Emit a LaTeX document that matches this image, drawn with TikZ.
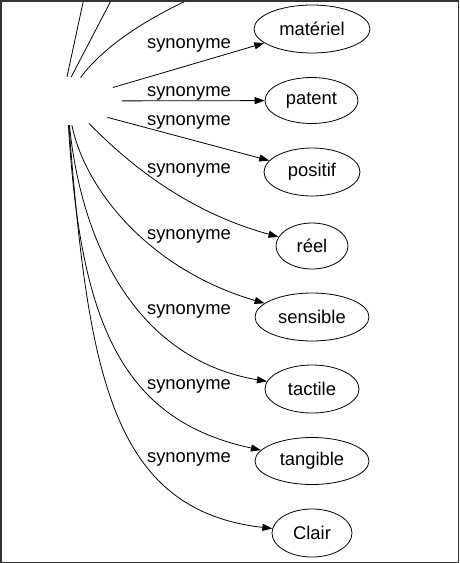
\documentclass[tikz,border=0pt]{standalone}
\usepackage{fontspec}
\setmainfont{Liberation Sans}
\usetikzlibrary{shapes.geometric,arrows.meta}
\begin{document}
\begin{tikzpicture}[x=1pt,y=-1pt,
  word/.style={ellipse,draw,line width=0.8pt,inner sep=0pt,font=\fontsize{18.4}{22}\selectfont},
  syn/.style={line width=0.8pt,-{Triangle[length=10pt,width=7pt]}},
  lbl/.style={inner sep=0pt,font=\fontsize{18.4}{22}\selectfont}]
\useasboundingbox (0,0) rectangle (459,563);
\node[ellipse,minimum width=110pt,minimum height=48pt] (src) at (67,101) {};
\node[word,minimum width=116pt,minimum height=48pt] (materiel) at (312,29) {matériel};
\node[word,minimum width=93pt,minimum height=46pt] (patent) at (311.5,100.5) {patent};
\node[word,minimum width=96pt,minimum height=48pt] (positif) at (312,172) {positif};
\node[word,minimum width=72pt,minimum height=46pt] (reel) at (312,246) {réel};
\node[word,minimum width=114pt,minimum height=48pt] (sensible) at (312,317) {sensible};
\node[word,minimum width=94pt,minimum height=48pt] (tactile) at (312,389) {tactile};
\node[word,minimum width=114pt,minimum height=47pt] (tangible) at (312,461) {tangible};
\node[word,minimum width=80pt,minimum height=48pt] (clair) at (312,533) {Clair};
% edges leaving the frame at the top
\begin{scope}
\clip (0,0) rectangle (459,563);
\coordinate (up1) at (90,-30);
\coordinate (up2) at (127,-30);
\coordinate (up3) at (215,-12);
\draw[line width=0.8pt] (src.north) -- (up1);
\draw[line width=0.8pt] (src.80) -- (up2);
\draw[line width=0.8pt] (src.60) .. controls (105,45) and (150,15) .. (up3);
\end{scope}
\draw[syn] (src) -- (materiel);
\draw[syn] (src) -- (patent);
\draw[syn] (src.-22) -- (positif);
\draw[syn] (src) .. controls (120,155) and (180,210) .. (reel);
\draw[syn] (src) .. controls (85,190) and (150,270) .. (sensible);
\draw[syn] (src) .. controls (82,250) and (140,360) .. (tactile);
\draw[syn] (src) .. controls (80,320) and (120,420) .. (tangible);
\draw[syn] (src) .. controls (88,370) and (110,510) .. (clair);
\node[lbl] (l1) at (189,45.5) {synonyme};
\node[lbl] (l2) at (189,93.5) {synonyme};
\node[lbl] (l3) at (189,122) {synonyme};
\node[lbl] (l4) at (189,170.5) {synonyme};
\node[lbl] (l5) at (189,236.5) {synonyme};
\node[lbl] (l6) at (189,311.5) {synonyme};
\node[lbl] (l7) at (189,386.5) {synonyme};
\node[lbl] (l8) at (189,459.5) {synonyme};
\draw[line width=1.5pt,black!80] (0.75,0.75) rectangle (458.25,562.25);
\end{tikzpicture}
\end{document}
